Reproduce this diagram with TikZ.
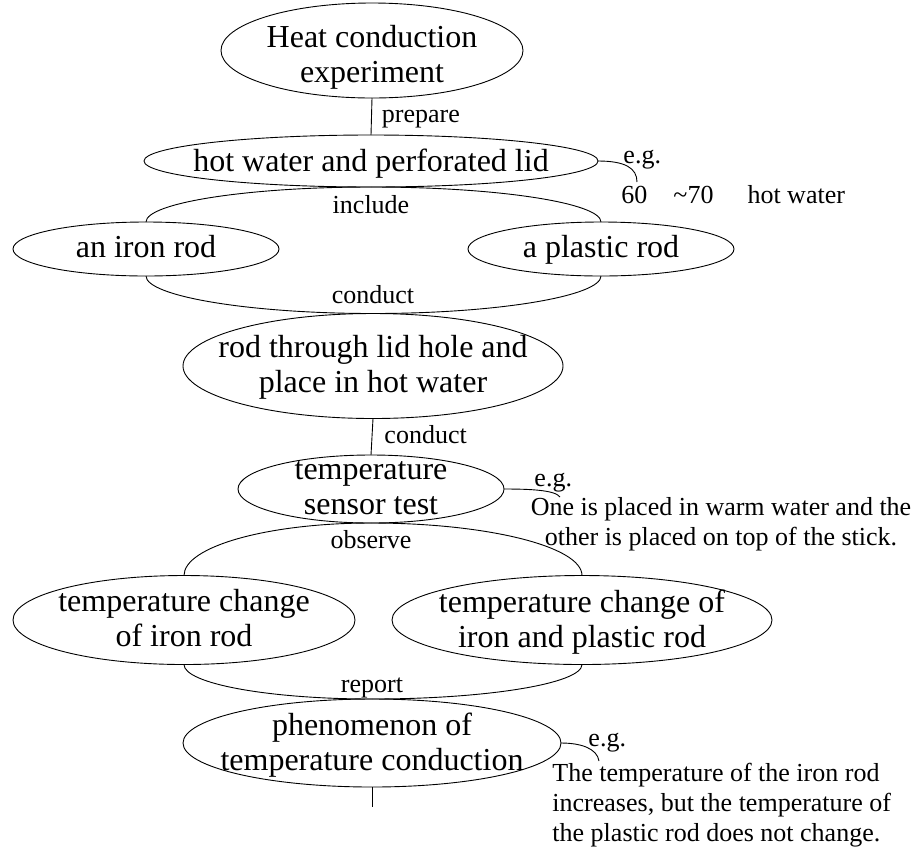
\documentclass[tikz,border=0pt]{standalone}
\usepackage{fontspec}
\setmainfont{Liberation Serif}
\usetikzlibrary{shapes.geometric}
\newcommand\nodefont{\fontsize{32}{35}\selectfont}
\newcommand\notefont{\fontsize{26}{30}\selectfont}
\tikzset{
  el/.style={draw, ellipse, inner sep=0pt, outer sep=0pt},
  eltext/.style={inner sep=0pt, align=center, font=\nodefont},
  lbl/.style={inner sep=0pt, font=\notefont},
  note/.style={inner sep=0pt, font=\notefont},
}
\begin{document}
\begin{tikzpicture}[x=1pt,y=-1pt,line width=0.9pt]
\useasboundingbox (0,0) rectangle (917,847);

% ellipses
\node[el, minimum width=302pt, minimum height=95pt] (n1) at (372,50.5) {};
\node[el, minimum width=454pt, minimum height=52pt] (n2) at (371,161) {};
\node[el, minimum width=266pt, minimum height=54pt] (n3) at (146,249) {};
\node[el, minimum width=266pt, minimum height=54pt] (n4) at (601,249) {};
\node[el, minimum width=380pt, minimum height=105pt] (n5) at (373,366) {};
\node[el, minimum width=266pt, minimum height=68pt] (n6) at (371,489) {};
\node[el, minimum width=342pt, minimum height=89pt] (n7) at (184,620) {};
\node[el, minimum width=380pt, minimum height=89pt] (n8) at (582,620) {};
\node[el, minimum width=378pt, minimum height=88pt] (n9) at (372,743) {};

% texts
\node[eltext] (t1) at (372,57) {Heat conduction\\experiment};
\node[eltext] (t2) at (371,163.5) {hot water and perforated lid};
\node[eltext] (t3) at (146,246.5) {an iron rod};
\node[eltext] (t4) at (601,249.5) {a plastic rod};
\node[eltext] (t5) at (373,367) {rod through lid hole and\\place in hot water};
\node[eltext] (t6) at (371,488) {temperature\\sensor test};
\node[eltext] (t7) at (184,618) {temperature change\\of iron rod};
\node[eltext] (t8) at (582,622) {temperature change of\\iron and plastic rod};
\node[eltext] (t9) at (372,745.5) {phenomenon of\\temperature conduction};

% annotations
\node[note, anchor=base west] (a1) at (621,203) {60\hspace{26pt}\textasciitilde70\hspace{34pt}hot water};
\node[note, align=center] (a2) at (721,524) {One is placed in warm water and the\\other is placed on top of the stick.};
\node[note, align=left, anchor=west] (a3) at (552,805) {The temperature of the iron rod\\increases, but the temperature of\\the plastic rod does not change.};

\coordinate (e1) at (637,182);
\coordinate (e2) at (560,497);
\coordinate (e3) at (599,761);
\coordinate (tail) at (372,807);

% connectors
\draw (n1.south) -- node[lbl, midway, anchor=base west, xshift=10pt, yshift=-5.5pt] {prepare} (n2.north);
\draw (n2.south) .. controls +(-124,0) and +(0,-19) .. node[lbl, at start, anchor=base, yshift=-26pt] {include} (n3.north);
\draw (n2.south) .. controls +(127,0) and +(0,-19) .. (n4.north);
\draw (n3.south) .. controls +(0,20) and +(-125,0) .. node[lbl, at end, anchor=base, yshift=10pt] {conduct} (n5.north);
\draw (n4.south) .. controls +(0,20) and +(125,0) .. (n5.north);
\draw (n5.south) -- node[lbl, midway, anchor=base west, xshift=12pt, yshift=-6.25pt] {conduct} (n6.north);
\draw (n6.south) .. controls +(-103,0) and +(0,-29) .. node[lbl, at start, anchor=base, yshift=-25pt] {observe} (n7.north);
\draw (n6.south) .. controls +(116,0) and +(0,-29) .. (n8.north);
\draw (n7.south) .. controls +(0,19) and +(-104,0) .. node[lbl, at end, anchor=base, yshift=7pt] {report} (n9.north);
\draw (n8.south) .. controls +(0,19) and +(115,0) .. (n9.north);
\draw (n9.south) -- (tail);

\draw (n2.east) .. controls +(27,0) and +(0,-14) .. node[lbl, at end, anchor=base west, xshift=-14pt, yshift=19pt] {e.g.} (e1);
\draw (n6.east) .. controls +(26,0) and +(-5,-7) .. node[lbl, at end, anchor=base west, xshift=-26pt, yshift=11pt] {e.g.} (e2);
\draw (n9.east) .. controls +(19,0) and +(-2,-13) .. node[lbl, at end, anchor=base west, xshift=-11pt, yshift=15pt] {e.g.} (e3);
\end{tikzpicture}
\end{document}
